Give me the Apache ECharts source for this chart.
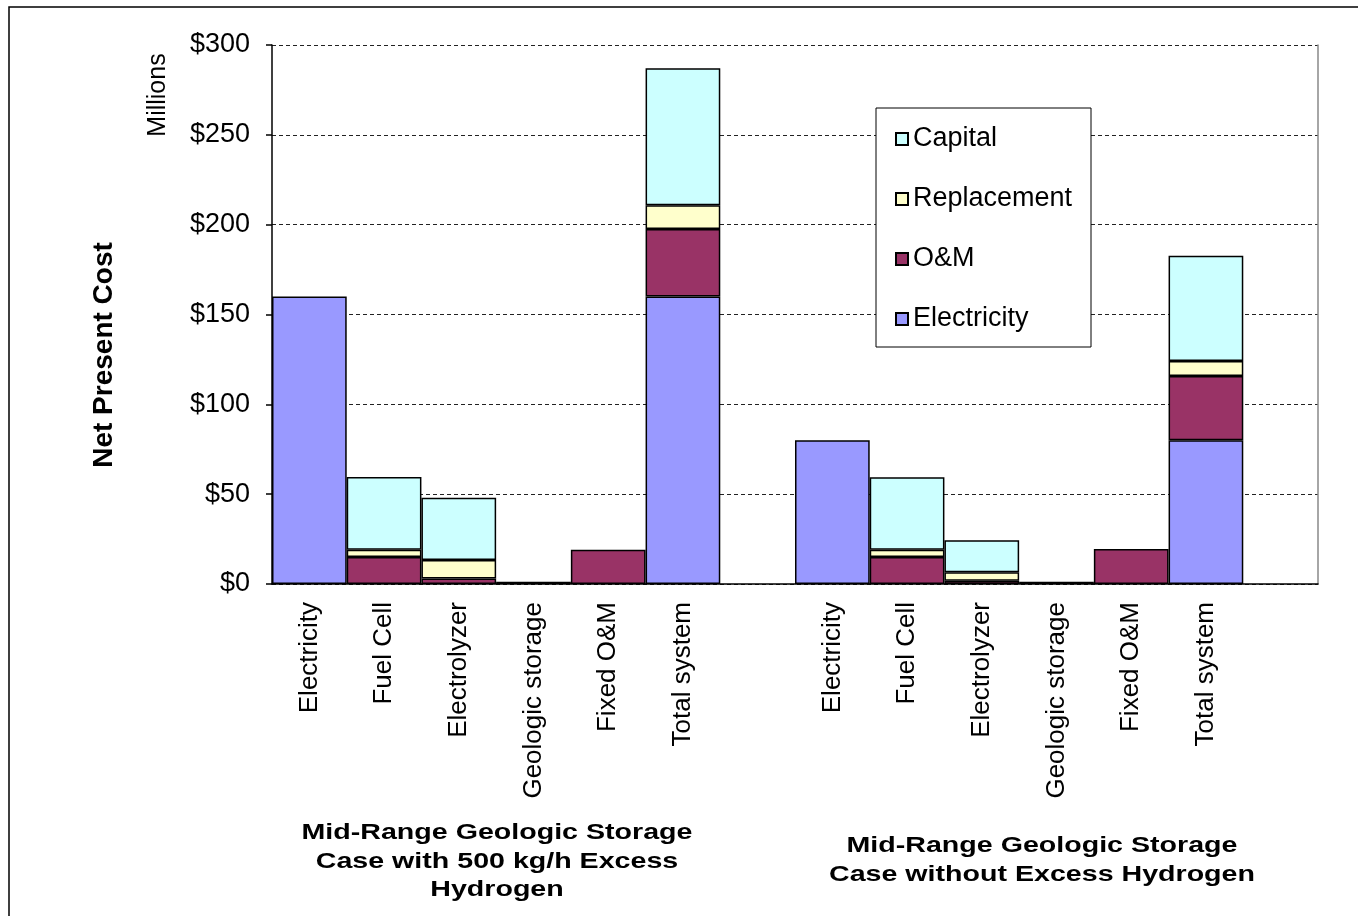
<!DOCTYPE html>
<html>
<head>
<meta charset="utf-8">
<script src="https://cdn.jsdelivr.net/npm/echarts@6/dist/echarts.min.js"></script>
<style>
  html, body { margin: 0; padding: 0; background: #fff; }
  #chart { width: 1358px; height: 916px; }
</style>
</head>
<body>
<div id="chart"></div>
<script>
// Net present cost breakdown, two storage cases side by side (values in $ millions)
const categories = [
  'Electricity', 'Fuel Cell', 'Electrolyzer', 'Geologic storage', 'Fixed O&M', 'Total system', '',
  'Electricity', 'Fuel Cell', 'Electrolyzer', 'Geologic storage', 'Fixed O&M', 'Total system', ''
];
const electricity = [160, null, null, null, null, 160, null, 80, null, null, null, null, 80, null];
const om          = [null, 15, 3, null, 19, 37.6, null, null, 15, 1.8, null, 19.5, 35.8, null];
const replacement = [null, 4, 10.4, null, null, 13.2, null, null, 4, 4.7, null, null, 8.3, null];
const capital     = [null, 40.5, 34.6, 1.3, null, 76.2, null, null, 40.4, 17.8, 1.2, null, 58.6, null];
const yTicks = { min: 0, max: 300, step: 50 };
const groupTitles = [
  'Mid-Range Geologic Storage\nCase with 500 kg/h Excess\nHydrogen',
  'Mid-Range Geologic Storage\nCase without Excess Hydrogen'
];

const FONT = '"Liberation Sans", Arial, Helvetica, sans-serif';
const chart = echarts.init(document.getElementById('chart'));

function barSeries(name, data, color) {
  return {
    name: name,
    type: 'bar',
    stack: 'npc',
    data: data,
    barCategoryGap: '0%',
    itemStyle: { color: color, borderColor: '#000', borderWidth: 1.5 },
    emphasis: { disabled: true }
  };
}

chart.setOption({
  animation: false,
  backgroundColor: '#fff',
  textStyle: { fontFamily: FONT, color: '#000' },
  grid: { left: 272, right: 40, top: 45, bottom: 332, containLabel: false },
  legend: {
    orient: 'vertical',
    left: 876,
    top: 108,
    data: ['Capital', 'Replacement', 'O&M', 'Electricity'],
    icon: 'rect',
    itemWidth: 12,
    itemHeight: 12,
    itemGap: 30,
    padding: [16, 6, 13, 19],
    borderColor: '#000',
    borderWidth: 1,
    backgroundColor: '#fff',
    selectedMode: false,
    textStyle: { fontFamily: FONT, fontSize: 27, color: '#000', lineHeight: 30, width: 172 }
  },
  xAxis: {
    type: 'category',
    data: categories,
    boundaryGap: true,
    axisLine: { lineStyle: { color: '#000', width: 1.5 } },
    axisTick: { interval: 0, length: 7, lineStyle: { color: '#000', width: 1.5 } },
    axisLabel: { interval: 0, rotate: 90, margin: 18, fontSize: 26, color: '#000', fontFamily: FONT }
  },
  yAxis: [{
    type: 'value',
    min: yTicks.min,
    max: yTicks.max,
    interval: yTicks.step,
    axisLine: { show: true, lineStyle: { color: '#000', width: 1.5 } },
    axisTick: { show: true, length: 6, lineStyle: { color: '#000', width: 1.5 } },
    axisLabel: { formatter: v => '$' + v, fontSize: 27, color: '#000', margin: 22, fontFamily: FONT },
    splitLine: { show: true, lineStyle: { color: '#222', width: 1, type: [4, 3] } }
  }, {
    type: 'value',
    position: 'right',
    min: yTicks.min,
    max: yTicks.max,
    interval: yTicks.step,
    axisLine: { show: true, lineStyle: { color: '#888', width: 1.5 } },
    axisTick: { show: false },
    axisLabel: { show: false },
    splitLine: { show: false }
  }],
  series: [
    barSeries('Electricity', electricity, '#9999FF'),
    barSeries('O&M', om, '#993366'),
    barSeries('Replacement', replacement, '#FFFFCC'),
    barSeries('Capital', capital, '#CCFFFF')
  ],
  graphic: [
    {
      type: 'rect', silent: true, z: 100,
      shape: { x: 9, y: 7, width: 1400, height: 1000 },
      style: { fill: 'none', stroke: '#000', lineWidth: 1.5 }
    },
    {
      type: 'text', x: 158, y: 95, rotation: Math.PI / 2,
      style: { text: 'Millions', font: '25px ' + FONT, fill: '#000', textAlign: 'center', textVerticalAlign: 'middle' }
    },
    {
      type: 'text', x: 104, y: 355, rotation: Math.PI / 2,
      style: { text: 'Net Present Cost', font: 'bold 28px ' + FONT, fill: '#000', textAlign: 'center', textVerticalAlign: 'middle' }
    },
    {
      type: 'text', x: 497, y: 819, scaleX: 1.3,
      style: { text: groupTitles[0], font: 'bold 22px ' + FONT, lineHeight: 28.5, fill: '#000', textAlign: 'center', textVerticalAlign: 'top' }
    },
    {
      type: 'text', x: 1042, y: 832, scaleX: 1.3,
      style: { text: groupTitles[1], font: 'bold 22px ' + FONT, lineHeight: 28.5, fill: '#000', textAlign: 'center', textVerticalAlign: 'top' }
    }
  ]
});
</script>
</body>
</html>
